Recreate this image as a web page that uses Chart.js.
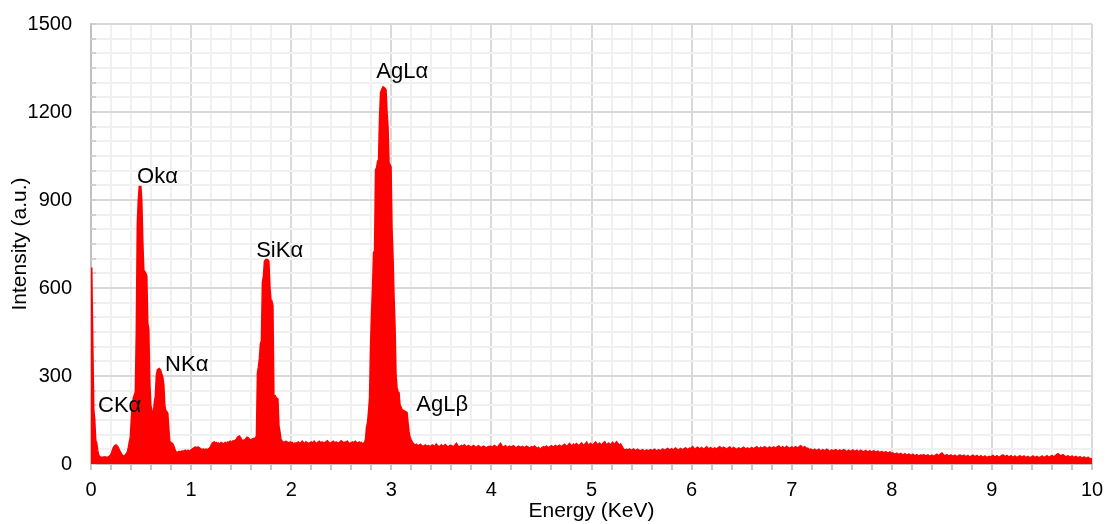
<!DOCTYPE html>
<html>
<head>
<meta charset="utf-8">
<script src="https://cdn.jsdelivr.net/npm/chart.js@4.4.1/dist/chart.umd.min.js"></script>
<style>
  html, body { margin: 0; padding: 0; background: #ffffff; }
  #wrap { width: 1107px; height: 524px; position: relative; }
</style>
</head>
<body>
<div id="wrap"><canvas id="c" width="1107" height="524"></canvas></div>
<script>
// Energy grid (keV): first channel and channel width
const energyStart = 0;
const energyStep = 0.01;

// Intensity (a.u.) per 0.01 keV channel, 0.00 ... 10.00 keV (rows of 0.2 keV)
const intensity = [
  670, 420, 190, 150, 80, 70, 45, 30, 24, 22, 20, 20, 21, 20, 22, 21, 20, 21, 23, 25,
  28, 35, 45, 55, 60, 62, 58, 52, 45, 38, 32, 28, 25, 24, 26, 30, 35, 40, 55, 75,
  90, 150, 200, 225, 235, 245, 450, 820, 900, 948, 900, 760, 660, 655, 650, 640, 480, 460, 280, 200,
  185, 165, 160, 170, 210, 230, 300, 320, 322, 318, 305, 295, 270, 200, 180, 178, 172, 120, 75, 72,
  70, 68, 60, 50, 42, 38, 36, 38, 40, 38, 40, 42, 40, 42, 44, 42, 40, 44, 42, 40,
  45, 48, 50, 52, 55, 54, 52, 55, 53, 50, 48, 46, 48, 45, 47, 48, 46, 48, 50, 52,
  58, 65, 70, 72, 68, 70, 66, 68, 64, 66, 70, 68, 65, 67, 70, 66, 68, 72, 70, 74,
  70, 72, 76, 74, 78, 80, 84, 90, 92, 88, 80, 76, 78, 75, 80, 84, 88, 86, 82, 80,
  80, 82, 84, 80, 85, 88, 95, 310, 330, 360, 410, 420, 620, 640, 690, 695, 695, 690, 600, 560,
  555, 540, 228, 225, 228, 222, 220, 130, 110, 85, 78, 74, 70, 72, 68, 74, 72, 66, 70, 72,
  68, 70, 66, 64, 68, 66, 70, 72, 68, 65, 70, 74, 70, 68, 66, 72, 70, 68, 65, 70,
  72, 68, 70, 74, 70, 66, 68, 72, 74, 70, 68, 72, 70, 66, 70, 74, 76, 72, 70, 68,
  70, 72, 74, 70, 68, 72, 70, 66, 70, 72, 76, 74, 70, 68, 72, 70, 74, 70, 68, 66,
  70, 72, 68, 72, 74, 70, 66, 70, 72, 68, 70, 66, 64, 70, 72, 85, 126, 140, 180, 225,
  400, 515, 600, 720, 725, 1002, 1010, 1030, 1036, 1180, 1265, 1275, 1282, 1280, 1275, 1200, 1149, 1026, 1020, 1012,
  800, 705, 570, 467, 300, 260, 245, 242, 200, 194, 184, 182, 180, 178, 176, 174, 140, 110, 90, 82,
  76, 70, 66, 64, 62, 64, 60, 58, 62, 64, 60, 58, 56, 60, 62, 58, 56, 60, 58, 55,
  58, 62, 60, 56, 58, 64, 60, 57, 55, 59, 62, 58, 56, 60, 63, 59, 57, 55, 58, 61,
  60, 57, 55, 58, 62, 66, 60, 56, 54, 58, 60, 57, 59, 62, 58, 55, 57, 60, 58, 56,
  54, 57, 60, 58, 55, 52, 56, 59, 57, 54, 52, 55, 58, 56, 53, 50, 54, 57, 55, 58,
  56, 53, 57, 60, 58, 55, 52, 56, 62, 66, 60, 56, 54, 57, 59, 56, 53, 55, 58, 56,
  54, 57, 59, 56, 53, 51, 55, 58, 56, 53, 55, 57, 54, 52, 55, 58, 56, 53, 51, 54,
  56, 53, 55, 58, 55, 52, 50, 53, 48, 44, 50, 54, 56, 53, 55, 58, 55, 52, 54, 57,
  59, 56, 54, 57, 60, 58, 55, 58, 61, 59, 56, 58, 62, 64, 60, 57, 59, 62, 66, 61,
  58, 61, 64, 60, 62, 66, 63, 59, 61, 65, 68, 63, 60, 62, 66, 70, 64, 61, 63, 67,
  64, 60, 63, 67, 71, 66, 62, 65, 68, 64, 61, 64, 69, 72, 66, 63, 65, 68, 64, 62,
  66, 70, 65, 62, 67, 72, 68, 63, 60, 64, 58, 52, 48, 46, 45, 47, 44, 46, 48, 45,
  43, 46, 48, 45, 42, 44, 47, 45, 43, 41, 44, 46, 43, 40, 42, 45, 43, 41, 44, 46,
  44, 42, 45, 47, 44, 41, 43, 46, 44, 42, 45, 48, 46, 43, 45, 48, 50, 47, 44, 46,
  49, 47, 45, 48, 51, 48, 46, 44, 47, 50, 48, 45, 47, 50, 52, 49, 46, 48, 51, 49,
  52, 55, 50, 47, 49, 52, 54, 51, 48, 50, 53, 50, 47, 49, 52, 55, 51, 48, 50, 53,
  50, 47, 49, 52, 50, 48, 51, 54, 56, 52, 49, 51, 54, 52, 49, 47, 50, 53, 55, 51,
  48, 50, 53, 51, 48, 46, 49, 52, 50, 47, 49, 52, 54, 51, 48, 50, 52, 49, 47, 50,
  53, 51, 48, 50, 54, 56, 52, 49, 51, 54, 52, 50, 53, 56, 54, 51, 49, 52, 55, 53,
  50, 52, 55, 53, 50, 53, 56, 58, 54, 51, 53, 56, 54, 51, 53, 57, 55, 52, 50, 53,
  55, 52, 50, 53, 56, 54, 51, 53, 57, 59, 55, 52, 54, 56, 52, 49, 51, 48, 46, 48,
  46, 43, 45, 47, 44, 42, 45, 47, 44, 41, 43, 46, 44, 42, 44, 47, 45, 42, 40, 43,
  45, 43, 41, 44, 46, 43, 40, 42, 45, 43, 41, 43, 46, 44, 41, 39, 42, 44, 42, 40,
  42, 45, 43, 40, 42, 44, 41, 39, 41, 44, 42, 40, 38, 41, 43, 40, 38, 40, 42, 39,
  37, 40, 42, 39, 37, 39, 41, 38, 36, 38, 40, 37, 35, 37, 39, 36, 34, 36, 38, 35,
  33, 35, 32, 30, 32, 34, 31, 29, 31, 33, 30, 28, 30, 32, 29, 27, 29, 31, 28, 26,
  28, 30, 27, 25, 27, 29, 26, 24, 26, 28, 25, 27, 29, 26, 24, 26, 28, 25, 23, 25,
  27, 25, 23, 25, 28, 30, 27, 25, 28, 32, 34, 30, 27, 25, 27, 29, 26, 24, 26, 28,
  25, 23, 25, 27, 24, 22, 24, 26, 28, 25, 23, 25, 27, 24, 22, 24, 26, 23, 21, 23,
  25, 27, 24, 22, 24, 26, 23, 21, 23, 25, 22, 20, 22, 24, 21, 19, 21, 23, 20, 22,
  24, 26, 23, 21, 23, 25, 22, 20, 22, 24, 26, 28, 25, 22, 24, 26, 23, 21, 23, 25,
  22, 20, 22, 24, 21, 19, 21, 23, 25, 22, 20, 22, 24, 21, 19, 21, 23, 20, 18, 20,
  22, 24, 21, 19, 21, 23, 20, 18, 20, 22, 24, 21, 19, 21, 23, 25, 22, 20, 22, 24,
  26, 23, 21, 24, 27, 30, 32, 29, 26, 24, 27, 29, 26, 23, 21, 23, 25, 22, 20, 22,
  24, 21, 19, 21, 23, 20, 18, 20, 22, 19, 17, 19, 21, 18, 16, 18, 20, 17, 15, 16,
  14
];

// Axis ranges / ticks
const xMin = 0, xMax = 10, xMinorStep = 0.2, xMajorStep = 1;
const yMin = 0, yMax = 1500, yMinorStep = 50, yMajorStep = 300;

// Peak labels (text, anchor energy keV, anchor intensity)
const peakNames = ['CKα', 'Okα', 'NKα', 'SiKα', 'AgLα', 'AgLβ'];
const peakEnergy = [0.07, 0.46, 0.74, 1.65, 2.85, 3.25];
const peakLabelLevel = [198, 977, 338, 728, 1335, 200];

const points = intensity.map((v, i) => ({ x: +(energyStart + i * energyStep).toFixed(2), y: v }));

const isMult = (v, m) => Math.abs(v / m - Math.round(v / m)) < 1e-6;
const FONT = "'Liberation Sans', Arial, sans-serif";

const peakLabelPlugin = {
  id: 'peakLabels',
  afterDatasetsDraw(chart) {
    const { ctx, scales: { x, y } } = chart;
    ctx.save();
    ctx.fillStyle = '#000000';
    ctx.font = "22px " + FONT;
    ctx.textAlign = 'left';
    ctx.textBaseline = 'middle';
    peakNames.forEach((t, i) => {
      ctx.fillText(t, x.getPixelForValue(peakEnergy[i]), y.getPixelForValue(peakLabelLevel[i]));
    });
    ctx.restore();
  }
};

const innerTickPlugin = {
  id: 'innerTicks',
  beforeDatasetsDraw(chart) {
    const { ctx, scales: { y } } = chart;
    ctx.save();
    ctx.strokeStyle = '#d0d0d0';
    ctx.lineWidth = 2;
    y.ticks.forEach(t => {
      const py = Math.round(y.getPixelForValue(t.value));
      ctx.beginPath();
      ctx.moveTo(chart.chartArea.left, py);
      ctx.lineTo(chart.chartArea.left + 5, py);
      ctx.stroke();
    });
    ctx.restore();
  }
};

new Chart(document.getElementById('c'), {
  type: 'line',
  data: {
    datasets: [{
      data: points,
      borderColor: '#ff0000',
      backgroundColor: '#ff0000',
      borderWidth: 3,
      pointRadius: 0,
      tension: 0,
      fill: 'origin'
    }]
  },
  options: {
    responsive: false,
    animation: false,
    devicePixelRatio: 1,
    parsing: false,
    layout: { padding: { top: 24, right: 15, left: 0, bottom: 0 } },
    plugins: { legend: { display: false }, tooltip: { enabled: false } },
    scales: {
      x: {
        type: 'linear',
        min: xMin, max: xMax,
        afterFit(s) { s.height = 60; s.paddingLeft = 0; s.paddingRight = 0; },
        ticks: {
          stepSize: xMinorStep,
          autoSkip: false,
          maxRotation: 0,
          padding: 8,
          color: '#000000',
          font: { family: FONT, size: 20 },
          callback: v => isMult(v, xMajorStep) ? String(Math.round(v)) : ''
        },
        grid: {
          color: c => isMult(c.tick.value, xMajorStep) ? '#d9d9d9' : '#f0f0f0',
          lineWidth: 2,
          tickColor: '#c8c8c8',
          tickLength: 6,
          drawTicks: true
        },
        border: { color: '#c0c0c0', width: 2 },
        title: {
          display: true,
          text: 'Energy (KeV)',
          color: '#000000',
          font: { family: FONT, size: 21 },
          padding: { top: 0, bottom: 0 }
        }
      },
      y: {
        min: yMin, max: yMax,
        afterFit(s) { s.width = 91; s.paddingTop = 0; s.paddingBottom = 0; },
        ticks: {
          stepSize: yMinorStep,
          autoSkip: false,
          padding: 19,
          color: '#000000',
          font: { family: FONT, size: 20 },
          callback: v => isMult(v, yMajorStep) ? String(v) : ''
        },
        grid: {
          color: c => isMult(c.tick.value, yMajorStep) ? '#d9d9d9' : '#f0f0f0',
          lineWidth: 2,
          drawTicks: false
        },
        border: { color: '#c0c0c0', width: 2 },
        title: {
          display: true,
          text: 'Intensity (a.u.)',
          color: '#000000',
          font: { family: FONT, size: 21 },
          padding: { top: 8, bottom: 0 }
        }
      }
    }
  },
  plugins: [innerTickPlugin, peakLabelPlugin]
});
</script>
</body>
</html>
